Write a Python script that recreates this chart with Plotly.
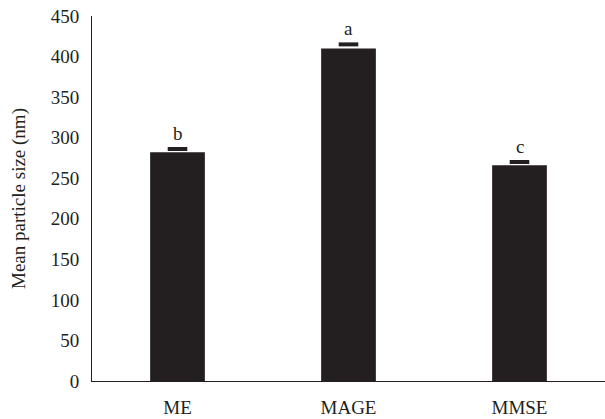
import plotly.graph_objects as go

categories = ["ME", "MAGE", "MMSE"]
means = [282, 410, 266]
errors = [4, 5, 4]
letters = ["b", "a", "c"]
y_ticks = [0, 50, 100, 150, 200, 250, 300, 350, 400, 450]

ink = "#231f20"
font_family = "Liberation Serif, Times New Roman, serif"
fs = 19

fig = go.Figure()
fig.add_trace(go.Bar(
    x=categories, y=means, width=0.32,
    marker=dict(color=ink, line=dict(width=0)),
    showlegend=False, hoverinfo="skip",
))
caps = [m + e for m, e in zip(means, errors)]
fig.add_trace(go.Scatter(
    x=categories, y=caps, mode="markers",
    marker=dict(symbol="line-ew", size=14, line=dict(color=ink, width=4)),
    showlegend=False, hoverinfo="skip", cliponaxis=False,
))
for c, v, t in zip(categories, caps, letters):
    fig.add_annotation(
        x=c, y=v, text=t, showarrow=False, yanchor="bottom", yshift=3,
        font=dict(family=font_family, size=fs, color=ink),
    )

fig.update_layout(
    width=605, height=419,
    margin=dict(l=92, r=0, t=16, b=38),
    paper_bgcolor="white", plot_bgcolor="white",
    font=dict(family=font_family, size=fs, color=ink),
)
fig.update_xaxes(
    range=[-0.5, 2.5], showline=True, linecolor=ink, linewidth=1,
    ticks="", showgrid=False, zeroline=False, ticklabelstandoff=9,
    tickfont=dict(family=font_family, size=fs, color=ink),
)
fig.update_yaxes(
    range=[0, 450], tickvals=y_ticks, showline=True, linecolor=ink, linewidth=1,
    ticks="", showgrid=False, zeroline=False, ticklabelstandoff=8,
    title=dict(text="Mean particle size (nm)", font=dict(family=font_family, size=fs, color=ink), standoff=20),
    tickfont=dict(family=font_family, size=fs, color=ink),
)

fig.write_html(
    "out.html",
    config={"displayModeBar": False, "staticPlot": True},
    post_script="document.body.style.margin='0';",
)
